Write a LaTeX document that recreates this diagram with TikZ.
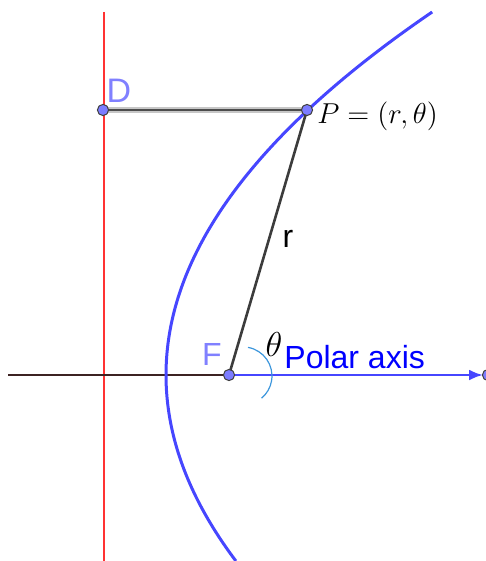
\documentclass[tikz,border=0pt]{standalone}
\usepackage{fontspec}
\newfontfamily\labelfont{Liberation Sans}
\usetikzlibrary{arrows.meta,positioning}
\definecolor{dotblue}{RGB}{124,124,255}
\definecolor{lblblue}{RGB}{128,128,255}
\definecolor{curveblue}{RGB}{70,70,255}
\definecolor{arcblue}{RGB}{60,150,220}
\definecolor{dirred}{RGB}{255,50,50}
\definecolor{axisdark}{RGB}{60,35,35}
\definecolor{segdark}{RGB}{60,60,60}

\begin{document}
\begin{tikzpicture}[
    x=0.5pt, y=-0.5pt,
    >={Latex[length=7pt,width=5.5pt]},
    dot/.style={circle, draw=black!75, fill=dotblue, line width=0.5pt,
                inner sep=0pt, minimum size=5.6pt},
    lbl/.style={font=\labelfont\fontsize{16}{19}\selectfont, inner sep=0pt},
    mathlbl/.style={font=\fontsize{14.8}{17}\selectfont, inner sep=0pt}
  ]
  \useasboundingbox (0,0) rectangle (486,561);
  \coordinate (F) at (229,375);
  \coordinate (P) at (307,110);
  \coordinate (D) at (103,110);
  \coordinate (dirtop) at (104,12);
  \coordinate (dirbot) at (104,561);
  \coordinate (axleft) at (8,375);
  \coordinate (axtip) at (483,375);
  \coordinate (axend) at (488,375);

  % directrix and polar axis
  \draw[dirred, line width=0.75pt] (dirtop) -- (dirbot);
  \draw[axisdark, line width=1.2pt] (axleft) -- (F);
  \draw[->, curveblue, line width=1.3pt] (F) -- (axtip);
  % parabola
  \draw[curveblue, line width=1.5pt] plot[domain=12:561, samples=120, variable=\t]
    ({166+((\t-375)/22.25)^2}, \t);
  % segments
  \draw[black!22, line width=3.4pt] (D) -- (P);
  \draw[black!70, line width=1.3pt] (D) -- (P);
  \draw[segdark, line width=1.3pt] (F) -- (P);
  % angle mark
  \draw[arcblue, line width=0.6pt] (248,347.4) arc[start angle=-80, end angle=50, radius=29];

  \node[dot] (dotD) at (D) {};
  \node[dot] (dotP) at (P) {};
  \node[dot] (dotF) at (F) {};
  \node[dot] (dotE) at (axend) {};

  \node[lbl, text=lblblue, font=\labelfont\fontsize{17}{20}\selectfont] (labD) at (119,91) {D};
  \node[lbl, text=lblblue] (labF) at (212,354) {F};
  \node[lbl] (labr) at (288,239) {r};
  \node[lbl, text=blue, anchor=base west] (labaxis) at (284,368) {Polar axis};
  \node[mathlbl, anchor=base west] (labP) at (317,124) {$P=(r,\theta)$};
  \node[mathlbl, font=\fontsize{17}{20}\selectfont] (labth) at (274,344) {$\theta$};
\end{tikzpicture}
\end{document}
